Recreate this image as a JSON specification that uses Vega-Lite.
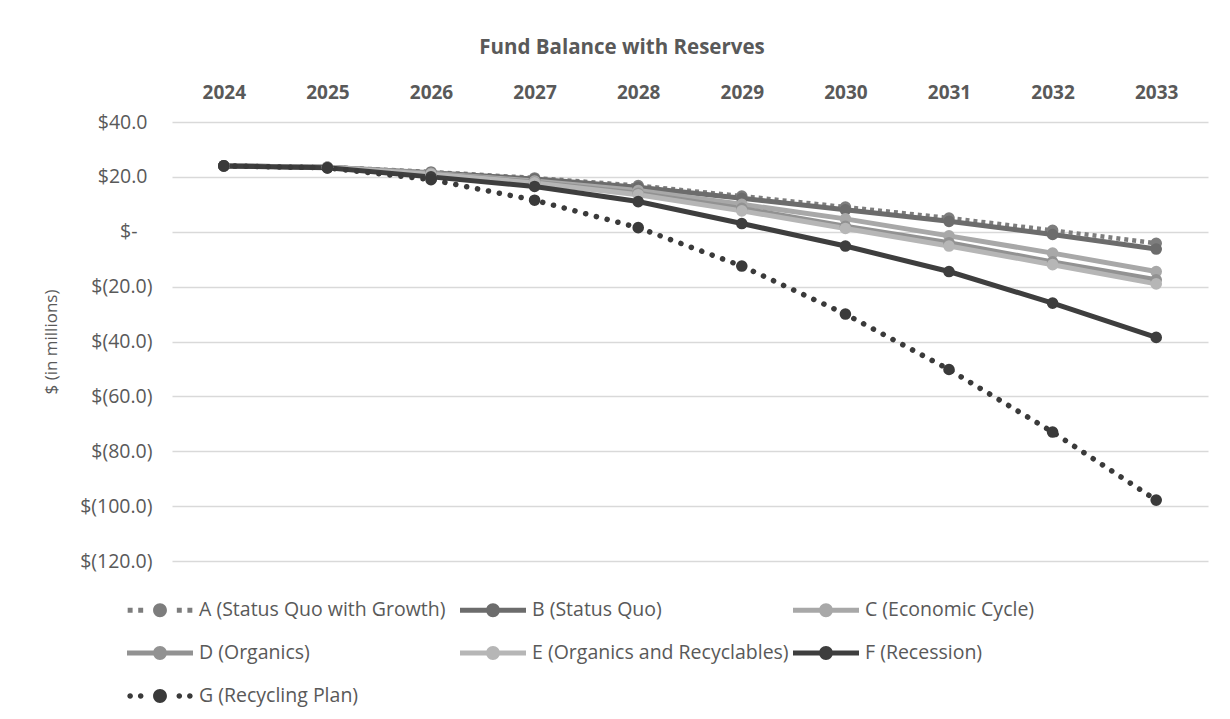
{
  "$schema": "https://vega.github.io/schema/vega-lite/v6.json",
  "width": 1036,
  "height": 439,
  "autosize": {"type": "none"},
  "padding": {"left": 172, "top": 122, "right": 22, "bottom": 158},
  "background": "white",
  "config": {
    "font": "Open Sans",
    "view": {"stroke": null},
    "axis": {"labelColor": "#595959", "titleColor": "#595959"}
  },
  "title": {
    "text": "Fund Balance with Reserves",
    "fontSize": 20.5,
    "fontWeight": "bold",
    "color": "#595959",
    "anchor": "middle",
    "dx": -68,
    "offset": 25
  },
  "data": {
    "values": [
      {"series": "A (Status Quo with Growth)", "year": "2024", "value": 24.0},
      {"series": "A (Status Quo with Growth)", "year": "2025", "value": 23.6},
      {"series": "A (Status Quo with Growth)", "year": "2026", "value": 21.8},
      {"series": "A (Status Quo with Growth)", "year": "2027", "value": 19.6},
      {"series": "A (Status Quo with Growth)", "year": "2028", "value": 16.8},
      {"series": "A (Status Quo with Growth)", "year": "2029", "value": 13.0},
      {"series": "A (Status Quo with Growth)", "year": "2030", "value": 9.0},
      {"series": "A (Status Quo with Growth)", "year": "2031", "value": 5.0},
      {"series": "A (Status Quo with Growth)", "year": "2032", "value": 0.5},
      {"series": "A (Status Quo with Growth)", "year": "2033", "value": -4.2},
      {"series": "B (Status Quo)", "year": "2024", "value": 24.0},
      {"series": "B (Status Quo)", "year": "2025", "value": 23.5},
      {"series": "B (Status Quo)", "year": "2026", "value": 21.5},
      {"series": "B (Status Quo)", "year": "2027", "value": 19.2},
      {"series": "B (Status Quo)", "year": "2028", "value": 16.2},
      {"series": "B (Status Quo)", "year": "2029", "value": 12.2},
      {"series": "B (Status Quo)", "year": "2030", "value": 8.0},
      {"series": "B (Status Quo)", "year": "2031", "value": 3.8},
      {"series": "B (Status Quo)", "year": "2032", "value": -1.0},
      {"series": "B (Status Quo)", "year": "2033", "value": -6.3},
      {"series": "C (Economic Cycle)", "year": "2024", "value": 24.0},
      {"series": "C (Economic Cycle)", "year": "2025", "value": 23.5},
      {"series": "C (Economic Cycle)", "year": "2026", "value": 21.3},
      {"series": "C (Economic Cycle)", "year": "2027", "value": 18.5},
      {"series": "C (Economic Cycle)", "year": "2028", "value": 15.0},
      {"series": "C (Economic Cycle)", "year": "2029", "value": 10.0},
      {"series": "C (Economic Cycle)", "year": "2030", "value": 4.7},
      {"series": "C (Economic Cycle)", "year": "2031", "value": -1.5},
      {"series": "C (Economic Cycle)", "year": "2032", "value": -7.8},
      {"series": "C (Economic Cycle)", "year": "2033", "value": -14.5},
      {"series": "D (Organics)", "year": "2024", "value": 24.0},
      {"series": "D (Organics)", "year": "2025", "value": 23.5},
      {"series": "D (Organics)", "year": "2026", "value": 21.2},
      {"series": "D (Organics)", "year": "2027", "value": 18.0},
      {"series": "D (Organics)", "year": "2028", "value": 14.0},
      {"series": "D (Organics)", "year": "2029", "value": 8.5},
      {"series": "D (Organics)", "year": "2030", "value": 2.0},
      {"series": "D (Organics)", "year": "2031", "value": -4.0},
      {"series": "D (Organics)", "year": "2032", "value": -11.0},
      {"series": "D (Organics)", "year": "2033", "value": -17.5},
      {"series": "E (Organics and Recyclables)", "year": "2024", "value": 24.0},
      {"series": "E (Organics and Recyclables)", "year": "2025", "value": 23.5},
      {"series": "E (Organics and Recyclables)", "year": "2026", "value": 21.0},
      {"series": "E (Organics and Recyclables)", "year": "2027", "value": 17.8},
      {"series": "E (Organics and Recyclables)", "year": "2028", "value": 13.5},
      {"series": "E (Organics and Recyclables)", "year": "2029", "value": 7.6},
      {"series": "E (Organics and Recyclables)", "year": "2030", "value": 1.2},
      {"series": "E (Organics and Recyclables)", "year": "2031", "value": -5.2},
      {"series": "E (Organics and Recyclables)", "year": "2032", "value": -12.0},
      {"series": "E (Organics and Recyclables)", "year": "2033", "value": -19.0},
      {"series": "F (Recession)", "year": "2024", "value": 24.0},
      {"series": "F (Recession)", "year": "2025", "value": 23.3},
      {"series": "F (Recession)", "year": "2026", "value": 20.0},
      {"series": "F (Recession)", "year": "2027", "value": 16.5},
      {"series": "F (Recession)", "year": "2028", "value": 11.0},
      {"series": "F (Recession)", "year": "2029", "value": 3.0},
      {"series": "F (Recession)", "year": "2030", "value": -5.2},
      {"series": "F (Recession)", "year": "2031", "value": -14.5},
      {"series": "F (Recession)", "year": "2032", "value": -26.0},
      {"series": "F (Recession)", "year": "2033", "value": -38.5},
      {"series": "G (Recycling Plan)", "year": "2024", "value": 24.0},
      {"series": "G (Recycling Plan)", "year": "2025", "value": 23.3},
      {"series": "G (Recycling Plan)", "year": "2026", "value": 19.0},
      {"series": "G (Recycling Plan)", "year": "2027", "value": 11.5},
      {"series": "G (Recycling Plan)", "year": "2028", "value": 1.5},
      {"series": "G (Recycling Plan)", "year": "2029", "value": -12.5},
      {"series": "G (Recycling Plan)", "year": "2030", "value": -30.0},
      {"series": "G (Recycling Plan)", "year": "2031", "value": -50.2},
      {"series": "G (Recycling Plan)", "year": "2032", "value": -73.0},
      {"series": "G (Recycling Plan)", "year": "2033", "value": -97.8}
    ]
  },
  "encoding": {
    "x": {
      "field": "year",
      "type": "ordinal",
      "scale": {"type": "point", "padding": 0.5},
      "axis": {
        "orient": "top",
        "title": null,
        "domain": false,
        "ticks": false,
        "grid": false,
        "labelAngle": 0,
        "labelFontSize": 19,
        "labelFontWeight": "bold",
        "labelPadding": 20
      }
    },
    "y": {
      "field": "value",
      "type": "quantitative",
      "scale": {"domain": [-120, 40], "nice": false, "zero": false},
      "axis": {
        "title": "$ (in millions)",
        "titleFontSize": 17,
        "titleFontWeight": "normal",
        "titlePadding": 19,
        "values": [-120, -100, -80, -60, -40, -20, 0, 20, 40],
        "domain": false,
        "ticks": false,
        "grid": true,
        "gridColor": "#d9d9d9",
        "gridWidth": 1.5,
        "labelFontSize": 19.5,
        "labelPadding": {"condition": [{"test": "datum.value < 0", "value": 20}, {"test": "datum.value == 0", "value": 35}], "value": 25},
        "labelExpr": "datum.value == 0 ? '$-' : (datum.value < 0 ? '$(' + format(-datum.value, '.1f') + ')' : '$' + format(datum.value, '.1f'))"
      }
    }
  },
  "layer": [
    {
      "transform": [{"filter": "datum.value > 1000"}],
      "mark": {"type": "point", "filled": true, "opacity": 1, "strokeWidth": 0},
      "encoding": {
        "color": {
          "field": "series",
          "type": "nominal",
          "scale": {
            "domain": ["A (Status Quo with Growth)", "B (Status Quo)", "C (Economic Cycle)", "D (Organics)", "E (Organics and Recyclables)", "F (Recession)", "G (Recycling Plan)"],
            "range": ["#7d7d7d", "#6c6c6c", "#a8a8a8", "#929292", "#b6b6b6", "#3e3e3e", "#3a3a3a"]
          },
          "legend": {
            "orient": "none",
            "legendX": -45,
            "legendY": 455,
            "direction": "horizontal",
            "columns": 3,
            "gridAlign": "all",
            "columnPadding": 4,
            "rowPadding": 0,
            "title": null,
            "labelFontSize": 19.5,
            "labelColor": "#595959",
            "labelOffset": 6,
            "symbolSize": 4356,
            "symbolStrokeWidth": 0,
            "labelLimit": 400
          }
        },
        "shape": {
          "field": "series",
          "type": "nominal",
          "scale": {
            "domain": ["A (Status Quo with Growth)", "B (Status Quo)", "C (Economic Cycle)", "D (Organics)", "E (Organics and Recyclables)", "F (Recession)", "G (Recycling Plan)"],
            "range": [
              "M-0.98,-0.075H-0.83V0.075H-0.98Z M-0.66,-0.075H-0.51V0.075H-0.66Z M0.51,-0.075H0.66V0.075H0.51Z M0.83,-0.075H0.98V0.075H0.83Z M0.21,0A0.21,0.21,0,1,1,-0.21,0A0.21,0.21,0,1,1,0.21,0Z",
              "M-1,-0.075H1V0.075H-1Z M0.21,0A0.21,0.21,0,1,1,-0.21,0A0.21,0.21,0,1,1,0.21,0Z",
              "M-1,-0.075H1V0.075H-1Z M0.21,0A0.21,0.21,0,1,1,-0.21,0A0.21,0.21,0,1,1,0.21,0Z",
              "M-1,-0.075H1V0.075H-1Z M0.21,0A0.21,0.21,0,1,1,-0.21,0A0.21,0.21,0,1,1,0.21,0Z",
              "M-1,-0.075H1V0.075H-1Z M0.21,0A0.21,0.21,0,1,1,-0.21,0A0.21,0.21,0,1,1,0.21,0Z",
              "M-1,-0.075H1V0.075H-1Z M0.21,0A0.21,0.21,0,1,1,-0.21,0A0.21,0.21,0,1,1,0.21,0Z",
              "M-0.82,0A0.085,0.085,0,1,1,-0.99,0A0.085,0.085,0,1,1,-0.82,0Z M-0.5,0A0.085,0.085,0,1,1,-0.67,0A0.085,0.085,0,1,1,-0.5,0Z M0.67,0A0.085,0.085,0,1,1,0.5,0A0.085,0.085,0,1,1,0.67,0Z M0.99,0A0.085,0.085,0,1,1,0.82,0A0.085,0.085,0,1,1,0.99,0Z M0.21,0A0.21,0.21,0,1,1,-0.21,0A0.21,0.21,0,1,1,0.21,0Z"
            ]
          },
          "legend": {
            "orient": "none",
            "legendX": -45,
            "legendY": 455,
            "direction": "horizontal",
            "columns": 3,
            "gridAlign": "all",
            "columnPadding": 4,
            "rowPadding": 0,
            "title": null,
            "labelFontSize": 19.5,
            "labelColor": "#595959",
            "labelOffset": 6,
            "symbolSize": 4356,
            "symbolStrokeWidth": 0,
            "labelLimit": 400
          }
        }
      }
    },
    {
      "mark": {"type": "rule", "color": "#8a8a8a", "strokeWidth": 3.5},
      "encoding": {"y": {"datum": 0}}
    },
    {
      "transform": [{"filter": "datum.series == 'A (Status Quo with Growth)'"}],
      "mark": {"type": "line", "strokeWidth": 4.5, "strokeDash": [4, 4], "strokeCap": "butt"},
      "encoding": {"color": {"field": "series", "type": "nominal"}}
    },
    {
      "transform": [{"filter": "datum.series != 'A (Status Quo with Growth)' && datum.series != 'G (Recycling Plan)'"}],
      "mark": {"type": "line", "strokeWidth": 5, "strokeCap": "round"},
      "encoding": {"color": {"field": "series", "type": "nominal"}}
    },
    {
      "transform": [{"filter": "datum.series == 'G (Recycling Plan)'"}],
      "mark": {"type": "line", "strokeWidth": 5.5, "strokeDash": [0.1, 11], "strokeCap": "round"},
      "encoding": {"color": {"field": "series", "type": "nominal"}}
    },
    {
      "mark": {"type": "point", "filled": true, "size": 135, "opacity": 1, "strokeWidth": 0},
      "encoding": {"color": {"field": "series", "type": "nominal"}}
    }
  ]
}
